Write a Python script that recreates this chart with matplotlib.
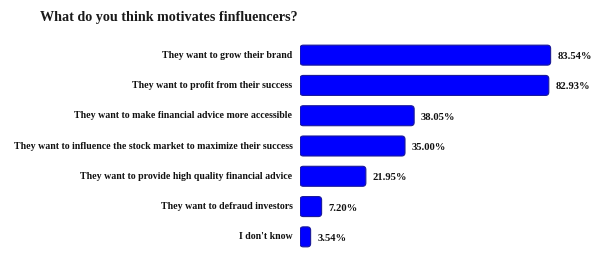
import matplotlib
matplotlib.use("Agg")
import matplotlib.pyplot as plt
from matplotlib.patches import FancyBboxPatch

categories = [
    "They want to grow their brand",
    "They want to profit from their success",
    "They want to make financial advice more accessible",
    "They want to influence the stock market to maximize their success",
    "They want to provide high quality financial advice",
    "They want to defraud investors",
    "I don't know",
]
values = [83.54, 82.93, 38.05, 35.00, 21.95, 7.20, 3.54]

plt.rcParams["font.family"] = ["Liberation Serif", "DejaVu Serif"]

fig = plt.figure(figsize=(6, 2.62), dpi=100)
W, H = 600, 262
ax = fig.add_axes([300 / W, 1 - 252 / H, 300 / W, 212 / H])
ax.set_xlim(0, 100)
ax.set_ylim(len(categories) - 0.5, -0.5)

bars = ax.barh(range(len(categories)), values, height=0.66, color="none")

# swap the plain bars for rounded ones
x_per_px = 100 / 300
y_per_px = 7 / 212
for b in bars:
    b.set_visible(False)
    x, y = b.get_x(), b.get_y()
    w, h = b.get_width(), b.get_height()
    p = FancyBboxPatch((x, y), w, h,
                       boxstyle="round,pad=0,rounding_size=1.1",
                       mutation_aspect=y_per_px / x_per_px,
                       facecolor="#0000ff", edgecolor="#1a1a9a", linewidth=0.8)
    ax.add_patch(p)

for i, (c, v) in enumerate(zip(categories, values)):
    ax.text(-2.5, i, c, ha="right", va="center", fontsize=7.1,
            fontweight="bold", color="#111111", clip_on=False)
    ax.text(v + 2.3, i + 0.05, f"{v:.2f}%", ha="left", va="center", fontsize=7.6,
            fontweight="bold", color="#111111")

ax.axis("off")

fig.text(40 / W, 1 - 18 / H, "What do you think motivates finfluencers?",
         ha="left", va="center", fontsize=10.2, fontweight="bold", color="#1a1a1a")

fig.savefig("out.png", dpi=100)
